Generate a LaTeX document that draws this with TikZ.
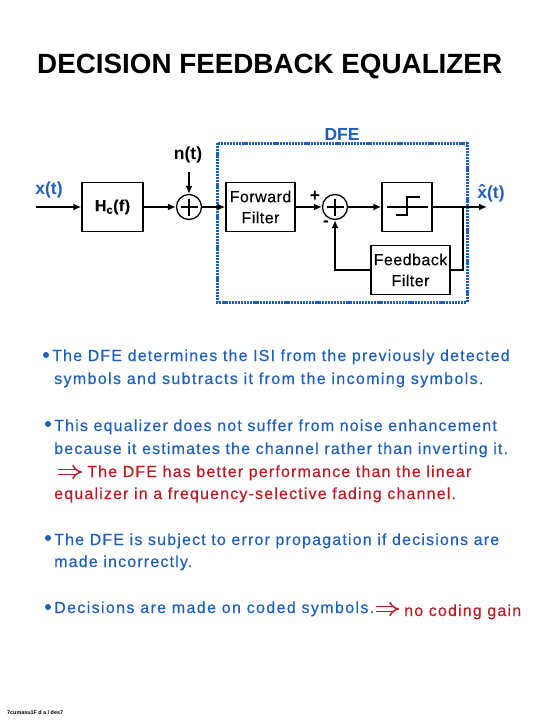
\documentclass[tikz,border=0pt]{standalone}
\usepackage{fontspec}
\setmainfont{Liberation Sans}
\newfontfamily\spacedfont[LetterSpace=7.3, FakeBold=0.35]{Liberation Sans}
\newfontfamily\widefont[LetterSpace=8.5, FakeBold=0.35]{Liberation Sans}
\newfontfamily\boxfont[LetterSpace=3, FakeBold=0.25]{Liberation Sans}
\definecolor{dfeblue}{RGB}{30, 95, 190}
\definecolor{dfered}{RGB}{190, 25, 35}
\usetikzlibrary{arrows.meta, positioning, calc}
\tikzset{
  block/.style={draw, line width=1.3pt, minimum width=#1, minimum height=49pt, inner sep=0pt, align=center, font=\fontsize{16}{21}\selectfont\boxfont},
  block/.default=60pt,
  sumnode/.style={draw, circle, line width=1.3pt, minimum size=25pt, inner sep=0pt,
    path picture={\draw[line width=2.4pt] ([xshift=4pt]path picture bounding box.west) -- ([xshift=-4pt]path picture bounding box.east);
      \draw[line width=2.4pt] ([yshift=-4pt]path picture bounding box.north) -- ([yshift=4pt]path picture bounding box.south);}},
  signal/.style={line width=2pt, -{Latex[length=8pt,width=7pt]}},
  wire/.style={line width=2pt},
  sigblue/.style={text=dfeblue, font=\fontsize{17.5}{18}\bfseries\selectfont},
  sigblack/.style={font=\fontsize{17.5}{18}\bfseries\selectfont},
  bodyline/.style={anchor=base west, inner sep=0pt, text=dfeblue, font=\fontsize{16}{18}\selectfont\spacedfont},
  bodywide/.style={bodyline, font=\fontsize{16}{18}\selectfont\widefont},
  redline/.style={bodyline, text=dfered},
  dot/.style={circle, fill=dfeblue, inner sep=0pt, minimum size=6pt},
  implies/.style={draw=dfered, line width=1.5pt, double, double distance=3.4pt, -{Implies[length=6pt,width=15pt]}}
}
\begin{document}
\begin{tikzpicture}[x=1pt, y=-1pt]
  \useasboundingbox (0,0) rectangle (540,720);
  \node[anchor=base west, inner sep=0pt, font=\fontsize{27.8}{30}\bfseries\selectfont] (title) at (37,73) {DECISION FEEDBACK EQUALIZER};

  % blocks
  \node[block=61pt] (channel) at (112.5,207) {\bfseries H\textsubscript{c}(f)};
  \node[sumnode] (sumin) at (189,207) {};
  \node[block=69pt] (forward) at (260.5,207) {Forward\\Filter};
  \node[sumnode] (sumfb) at (335,207) {};
  \node[block=50pt] (slicer) at (407,207) {};
  \node[block=79pt] (feedback) at (410.5,270) {Feedback\\Filter};
  \draw[dfeblue, line width=3pt, dash pattern=on 2.2pt off 0.9pt] (217,143) rectangle (467,302);

  % free ends
  \coordinate (input) at (36,207);
  \coordinate (noise) at (189,172);
  \coordinate (output) at (487,207);
  \coordinate (branch) at (463,207);

  % signal path
  \draw[signal] (input) -- (channel);
  \draw[signal] (channel) -- (sumin);
  \draw[signal] (noise) -- (sumin);
  \draw[signal] (sumin) -- (forward);
  \draw[signal] (forward) -- (sumfb);
  \draw[signal] (sumfb) -- (slicer);
  \draw[signal] (slicer) -- (output);
  \draw[wire] (branch) |- (feedback);
  \draw[signal] (feedback) -| (sumfb);

  % decision device
  \draw[line width=2pt] (387,207) -- (428,207);
  \draw[line width=2pt] (396,215) -- (407,215) -- (407,197) -- (420,197);

  % labels
  \node[sigblue] (xin) at (49,190) {x(t)};
  \node[sigblack] (ntext) at (188,155) {n(t)};
  \node[sigblue] (dfe) at (342,134) {DFE};
  \node[sigblue, anchor=base] (xout) at (491,198) {\^x(t)};
  \node[sigblack] (plus) at (315,196) {+};
  \node[sigblack] (minus) at (326,224) {-};

  % text
  \node[dot] (b1) at (46,355) {};
  \node[bodyline] (l1) at (52,361) {The DFE determines the ISI from the previously detected};
  \node[bodywide] (l2) at (54,384) {symbols and subtracts it from the incoming symbols.};
  \node[dot] (b2) at (48,424) {};
  \node[bodyline] (l3) at (54,431) {This equalizer does not suffer from noise enhancement};
  \node[bodyline] (l4) at (54,454) {because it estimates the channel rather than inverting it.};
  \coordinate (imp1) at (58,472);
  \coordinate (imp1end) at (82,472);
  \draw[implies] (imp1) -- (imp1end);
  \node[redline] (l5) at (87,477) {The DFE has better performance than the linear};
  \node[redline] (l6) at (54,499) {equalizer in a frequency-selective fading channel.};
  \node[dot] (b3) at (48,538) {};
  \node[bodyline] (l7) at (54,545) {The DFE is subject to error propagation if decisions are};
  \node[bodyline] (l8) at (54,567) {made incorrectly.};
  \node[dot] (b4) at (48,607) {};
  \node[bodywide] (l9) at (54,613) {Decisions are made on coded symbols.};
  \coordinate (imp2) at (376,609);
  \coordinate (imp2end) at (399,609);
  \draw[implies] (imp2) -- (imp2end);
  \node[redline] (l10) at (404,616) {no coding gain};
  \node[anchor=base west, inner sep=0pt, font=\fontsize{5.4}{6}\bfseries\selectfont] (foot) at (7,714) {7cumasu1F d a l des7};
\end{tikzpicture}
\end{document}
